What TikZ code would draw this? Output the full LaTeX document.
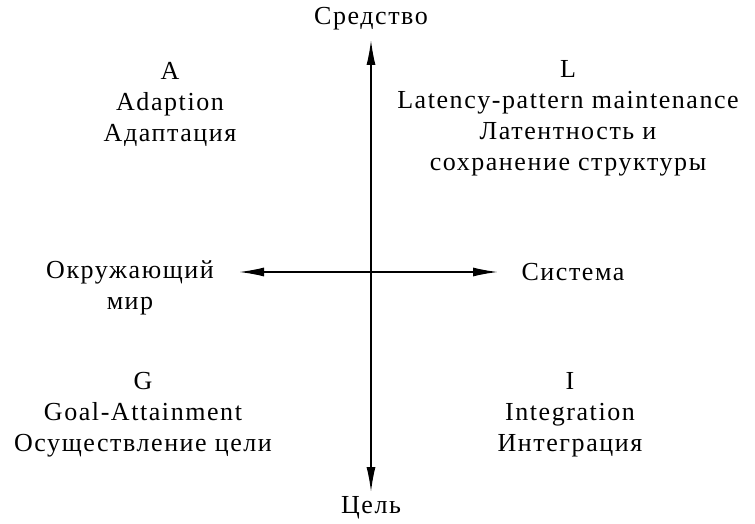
\documentclass[tikz,border=0pt]{standalone}
\usepackage{fontspec}
\setmainfont[LetterSpace=6]{Liberation Serif}
\usetikzlibrary{arrows.meta}
\tikzset{
  lbl/.style={align=center, inner sep=0pt, font=\fontsize{26}{31}\selectfont},
  axis/.style={line width=1.5pt, {Latex[length=25pt,width=9pt]}-{Latex[length=25pt,width=9pt]}}
}
\begin{document}
\begin{tikzpicture}[x=1pt,y=-1pt]
\useasboundingbox (0,0) rectangle (755,524);
\coordinate (top) at (371,40);
\coordinate (bot) at (371,492);
\coordinate (lft) at (239,272);
\coordinate (rgt) at (498,272);
\draw[axis] (top) -- (bot);
\draw[axis] (lft) -- (rgt);
\node[lbl] (sred) at (371,19) {Средство};
\node[lbl] (cel) at (371,508) {Цель};
\node[lbl] (A) at (170,104) {A\\Adaption\\Адаптация};
\node[lbl] (L) at (568,118) {L\\Latency-pattern maintenance\\Латентность и\\сохранение структуры};
\node[lbl] (okr) at (130,288) {Окружающий\\мир};
\node[lbl] (sis) at (573,272) {Система};
\node[lbl] (G) at (143,415) {G\\Goal-Attainment\\Осуществление цели};
\node[lbl] (I) at (570,415) {I\\Integration\\Интеграция};
\end{tikzpicture}
\end{document}
